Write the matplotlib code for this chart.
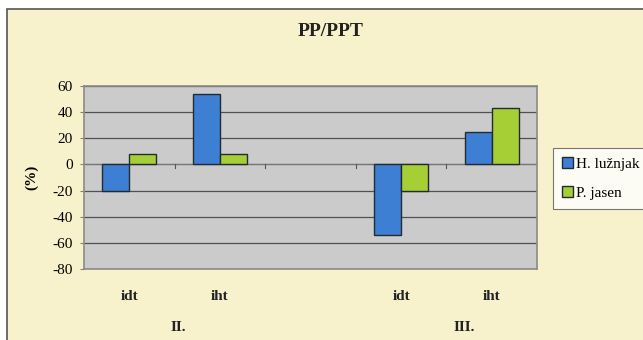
import numpy as np
import matplotlib
matplotlib.use("Agg")
import matplotlib.pyplot as plt
from matplotlib.patches import Rectangle

DPI = 100

# data (middle slot is an empty category)
categories = ['idt', 'iht', '', 'idt', 'iht']
groups = ['II.', 'III.']
h_luznjak = [-20, 54, np.nan, -54, 25]
p_jasen = [8, 8, np.nan, -20, 43]
yticks = [60, 40, 20, 0, -20, -40, -60, -80]

plt.rcParams['font.family'] = ['Liberation Serif', 'DejaVu Serif']

fig = plt.figure(figsize=(643 / DPI, 340 / DPI), dpi=DPI, facecolor='white')
# outer chart area border (cropped on right and bottom)
fig.patches.append(Rectangle((7 / 643, -0.1), 1.2, 1.1 - 9 / 340,
                             transform=fig.transFigure, facecolor='#f7f2cb',
                             edgecolor='#555555', lw=1.2, zorder=-5))

ax = fig.add_axes([84 / 643, 1 - 269 / 340, 453 / 643, 183 / 340])
ax.set_zorder(2)
ax.set_facecolor('#cbcbcb')

x = np.arange(len(categories))
w = 0.3
ax.bar(x - w / 2, h_luznjak, w, color='#3d7fd3', edgecolor='#222a33', lw=1.0,
       label='H. lužnjak', zorder=3)
ax.bar(x + w / 2, p_jasen, w, color='#a6cf36', edgecolor='#222a33', lw=1.0,
       label='P. jasen', zorder=3)

ax.set_xlim(-0.5, len(categories) - 0.5)
ax.set_ylim(-80, 60)
ax.set_yticks(yticks)
ax.set_yticklabels([str(v) for v in yticks], fontsize=11)
ax.yaxis.grid(True, color='#505050', lw=0.9, zorder=1)
ax.set_axisbelow(True)
ax.tick_params(axis='y', length=3, color='#808080', pad=5)

# category axis crossing at zero, with small ticks between categories
ax.axhline(0, color='#777777', lw=0.8, zorder=2)
for b in np.arange(0.5, len(categories) - 1, 1.0):
    ax.plot([b, b], [0, -2.5], color='#555555', lw=0.8, zorder=2)
ax.set_xticks([])
for i, c in enumerate(categories):
    ax.text(i, -96, c, ha='center', va='top', fontsize=11, fontweight='bold',
            color='#222222')
for gx, g in zip([0.54, 3.7], groups):
    ax.text(gx, -120, g, ha='center', va='top', fontsize=11, fontweight='bold',
            color='#222222')

for s in ax.spines.values():
    s.set_color('#8a8a8a')
    s.set_linewidth(1.2)

ax.set_ylabel('(%)', fontsize=11, fontweight='bold', labelpad=10)
fig.text(331 / 643, 1 - 31 / 340, 'PP/PPT', ha='center', va='center',
         fontsize=14, fontweight='bold', color='#222222')

leg = ax.legend(loc='upper left', bbox_to_anchor=(553 / 643, 1 - 148 / 340),
                bbox_transform=fig.transFigure, frameon=True, fancybox=False,
                fontsize=11, handlelength=0.7, handleheight=0.7,
                handletextpad=0.2, borderpad=0.6, labelspacing=1.0,
                borderaxespad=0)
leg.get_frame().set_edgecolor('#555555')
leg.get_frame().set_linewidth(0.8)

fig.savefig('out.png', dpi=DPI, facecolor='white')
